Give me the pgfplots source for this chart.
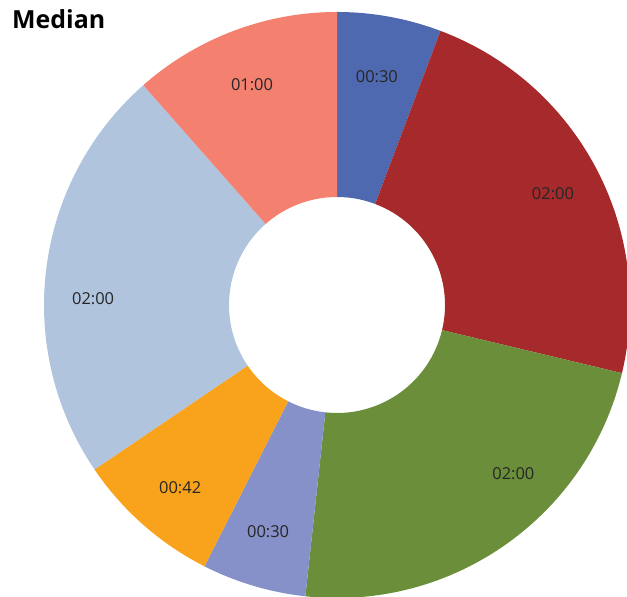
\documentclass[border=0pt]{standalone}
\usepackage{pgfplots}
\pgfplotsset{compat=1.18}
\usepackage{pgfplotstable}
\usepackage{fontspec}
\setmainfont{Open Sans}
\definecolor{c1}{HTML}{4F69B1}
\definecolor{c2}{HTML}{A6292B}
\definecolor{c3}{HTML}{6B8E3B}
\definecolor{c4}{HTML}{8591C8}
\definecolor{c5}{HTML}{F9A31D}
\definecolor{c6}{HTML}{B0C4DE}
\definecolor{c7}{HTML}{F48170}
% value in minutes; la/lr = label angle and radius
\pgfplotstableread{
label value colour la lr
00:30 30 c1 80.1 232
02:00 120 c2 27.3 243
02:00 120 c3 -43.7 244
00:30 30 c4 -106.9 237
00:42 42 c5 -130.6 241
02:00 120 c6 178.4 244
01:00 60 c7 111.1 236
}\data
\tikzset{lbl/.style={text=black!85,font=\fontsize{16.5}{19}\selectfont,inner sep=0pt}}
\begin{document}
\begin{tikzpicture}
\begin{axis}[
  scale only axis, width=627bp, height=597bp,
  xmin=0, xmax=627, ymin=0, ymax=597,
  hide axis,
]
\def\cx{337}\def\cy{292}\def\Ro{293}\def\Ri{108}
\pgfplotstablegetrowsof{\data}
\pgfmathtruncatemacro\N{\pgfplotsretval-1}
\def\total{0}
\pgfplotsforeachungrouped \i in {0,...,\N}{%
  \pgfplotstablegetelem{\i}{value}\of\data
  \pgfmathsetmacro\total{\total+\pgfplotsretval}%
}
\def\cum{0}
\pgfplotsforeachungrouped \i in {0,...,\N}{%
  \pgfplotstablegetelem{\i}{value}\of\data \let\v\pgfplotsretval
  \pgfplotstablegetelem{\i}{label}\of\data \let\lab\pgfplotsretval
  \pgfplotstablegetelem{\i}{colour}\of\data \let\col\pgfplotsretval
  \pgfplotstablegetelem{\i}{la}\of\data \let\m\pgfplotsretval
  \pgfplotstablegetelem{\i}{lr}\of\data \let\Rl\pgfplotsretval
  \pgfmathsetmacro\a{90-\cum/\total*360}%
  \pgfmathsetmacro\b{90-(\cum+\v)/\total*360}%
  \pgfmathsetmacro\xa{\cx+\Ro*cos(\a)}%
  \pgfmathsetmacro\ya{\cy+\Ro*sin(\a)}%
  \pgfmathsetmacro\xb{\cx+\Ri*cos(\b)}%
  \pgfmathsetmacro\yb{\cy+\Ri*sin(\b)}%
  \pgfmathsetmacro\xm{\cx+\Rl*cos(\m)}%
  \pgfmathsetmacro\ym{\cy+\Rl*sin(\m)}%
  \edef\temp{%
    \noexpand\fill[\col] (axis cs:\xa,\ya) arc[start angle=\a, end angle=\b, radius=\Ro bp]
      -- (axis cs:\xb,\yb) arc[start angle=\b, end angle=\a, radius=\Ri bp] -- cycle;
    \noexpand\node[lbl] at (axis cs:\xm,\ym) {\lab};
  }%
  \temp
  \pgfmathsetmacro\cum{\cum+\v}%
}
\node[anchor=base west, inner sep=0pt, font=\fontsize{25}{29}\selectfont\bfseries] at (axis cs:12,568) {Median};
\end{axis}
\pgfresetboundingbox
\path (current axis.south west) rectangle (current axis.north east);
\end{tikzpicture}
\end{document}
